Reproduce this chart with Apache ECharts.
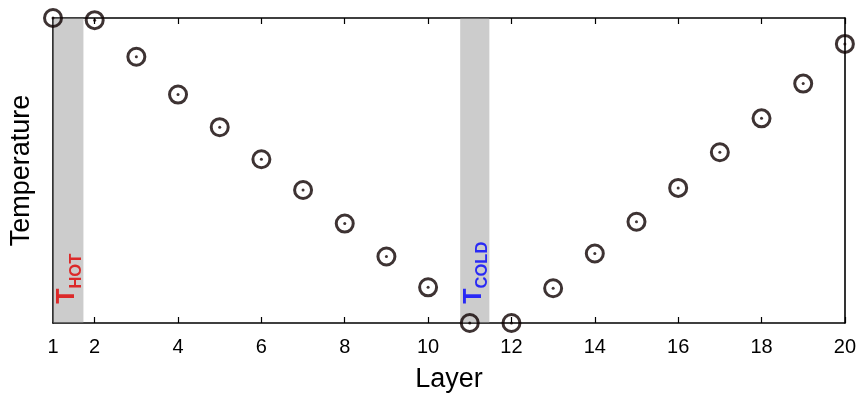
<!DOCTYPE html>
<html>
<head>
<meta charset="utf-8">
<script src="https://cdn.jsdelivr.net/npm/echarts@6/dist/echarts.min.js"></script>
<style>
  html, body { margin: 0; padding: 0; background: #fff; }
  #chart { width: 859px; height: 398px; }
</style>
</head>
<body>
<div id="chart"></div>
<script>
// Layer index and temperature (arbitrary units, 0 = coldest, 100 = hottest)
const layers = [1, 2, 3, 4, 5, 6, 7, 8, 9, 10, 11, 12, 13, 14, 15, 16, 17, 18, 19, 20];
const temperature = [100, 99.3, 87.3, 74.9, 64.2, 53.7, 43.6, 32.6, 21.8, 11.7,
                     0, 0, 11.4, 22.8, 33.2, 44.3, 56.0, 67.1, 78.5, 91.5];

// x-axis tick labels and tick marks
const xLabelValues = [1, 2, 4, 6, 8, 10, 12, 14, 16, 18, 20];
const xTickValues = [2, 4, 6, 8, 10, 12, 14, 16, 18, 20];

// Shaded reservoir bands (layer ranges)
const hotBand = [1, 1.73];
const coldBand = [10.77, 11.47];

// Reservoir labels: [layer, temperature] anchor and text
const hotLabel = { pos: [1.41, 14.5], sub: 'HOT' };
const coldLabel = { pos: [11.16, 16.5], sub: 'COLD' };

const ink = '#0e0000';
const font = 'Liberation Sans, Arial, Helvetica, sans-serif';

const points = layers.map((l, i) => [l, temperature[i]]);

const chart = echarts.init(document.getElementById('chart'), null, { renderer: 'canvas' });

function reservoirLabel(item, color) {
  return {
    value: item.pos,
    label: {
      show: true,
      position: 'inside',
      rotate: 90,
      formatter: '{t|T}{s|' + item.sub + '}',
      rich: {
        t: { fontSize: 25, fontWeight: 'bold', color: color, fontFamily: font, verticalAlign: 'bottom', padding: [0, 0, 5, 0] },
        s: { fontSize: 16.5, fontWeight: 'bold', color: color, fontFamily: font, verticalAlign: 'bottom' }
      }
    }
  };
}

const option = {
  animation: false,
  backgroundColor: '#ffffff',
  grid: { left: 52, right: 14, top: 18, bottom: 73, containLabel: false },
  xAxis: [
    {
      type: 'value', min: 1, max: 20,
      name: 'Layer', nameLocation: 'middle', nameGap: 43,
      nameTextStyle: { fontSize: 27, color: '#000', fontFamily: font },
      axisLine: { show: true, lineStyle: { color: '#000', width: 1.6 } },
      axisTick: { show: true, inside: true, length: 6, customValues: xTickValues, lineStyle: { color: '#000', width: 1.2 } },
      axisLabel: { show: true, customValues: xLabelValues, fontSize: 20, color: '#000', fontFamily: font, margin: 14 },
      splitLine: { show: false }
    },
    {
      type: 'value', min: 1, max: 20, position: 'top',
      axisLine: { show: true, onZero: false, lineStyle: { color: '#000', width: 1.6 } },
      axisTick: { show: true, inside: true, length: 6, customValues: xTickValues, lineStyle: { color: '#000', width: 1.2 } },
      axisLabel: { show: false },
      splitLine: { show: false }
    }
  ],
  yAxis: [
    {
      type: 'value', min: 0, max: 100,
      name: 'Temperature', nameLocation: 'middle', nameGap: 18, nameRotate: 90,
      nameTextStyle: { fontSize: 27, color: '#000', fontFamily: font },
      axisLine: { show: true, onZero: false, lineStyle: { color: '#000', width: 1.6 } },
      axisTick: { show: false },
      axisLabel: { show: false },
      splitLine: { show: false }
    },
    {
      type: 'value', min: 0, max: 100, position: 'right',
      axisLine: { show: true, onZero: false, lineStyle: { color: '#000', width: 1.6 } },
      axisTick: { show: false },
      axisLabel: { show: false },
      splitLine: { show: false }
    }
  ],
  series: [
    {
      // open circles
      type: 'scatter', clip: false, z: 2,
      symbol: 'circle', symbolSize: 17,
      itemStyle: { color: 'rgba(255,255,255,0)', borderColor: ink, borderWidth: 3 },
      data: points,
      silent: true
    },
    {
      // centre dots
      type: 'scatter', clip: false, z: 2,
      symbol: 'circle', symbolSize: 3,
      itemStyle: { color: ink },
      data: points,
      silent: true
    },
    {
      // shaded bands drawn over the markers
      type: 'scatter', z: 3, data: [],
      markArea: {
        silent: true,
        itemStyle: { color: 'rgba(147,147,147,0.47)' },
        data: [
          [{ xAxis: hotBand[0], yAxis: 0 }, { xAxis: hotBand[1], yAxis: 100 }],
          [{ xAxis: coldBand[0], yAxis: 0 }, { xAxis: coldBand[1], yAxis: 100 }]
        ]
      }
    },
    {
      // reservoir labels
      type: 'scatter', z: 4, symbolSize: 0, clip: false, silent: true,
      data: [reservoirLabel(hotLabel, '#e00000'), reservoirLabel(coldLabel, '#0000ff')]
    }
  ]
};

chart.setOption(option);
</script>
</body>
</html>
